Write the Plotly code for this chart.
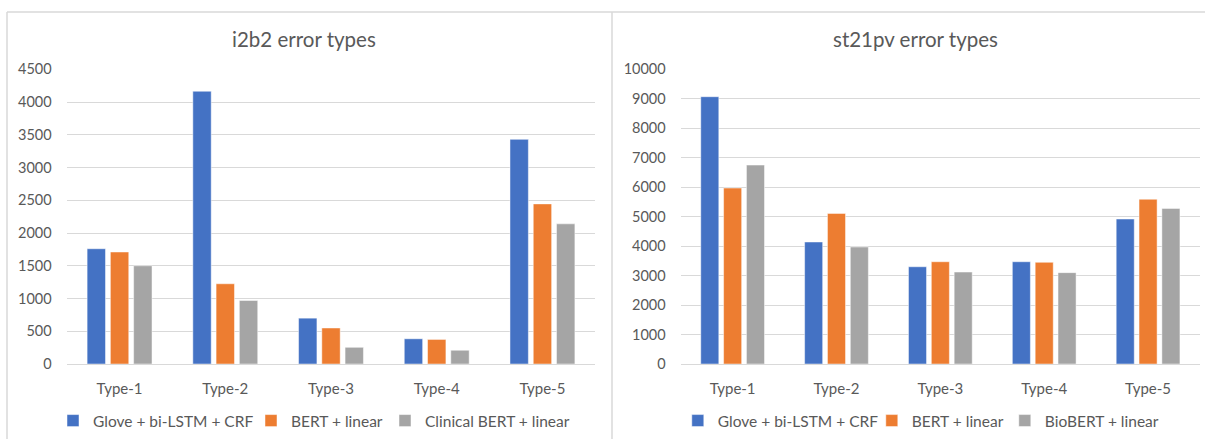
import plotly.graph_objects as go

W, H = 1205, 439

categories = ["Type-1", "Type-2", "Type-3", "Type-4", "Type-5"]

i2b2_names = ["Glove + bi-LSTM + CRF", "BERT + linear", "Clinical BERT + linear"]
i2b2_glove = [1760, 4165, 700, 385, 3430]
i2b2_bert = [1710, 1225, 550, 375, 2445]
i2b2_clinical = [1500, 970, 255, 210, 2140]

st21_names = ["Glove + bi-LSTM + CRF", "BERT + linear", "BioBERT + linear"]
st21_glove = [9070, 4140, 3300, 3470, 4920]
st21_bert = [5970, 5110, 3470, 3450, 5590]
st21_biobert = [6750, 3970, 3120, 3100, 5280]

colors = ["#4472C4", "#ED7D31", "#A5A5A5"]
TXT = "#595959"
GRID = "#D9D9D9"
FONT = "Lato"

def px(x):
    return x / W

def py(y):
    return 1 - y / H

fig = go.Figure()

left_series = [i2b2_glove, i2b2_bert, i2b2_clinical]
left_lw = [153, 89, None]
for name, vals, c, lw in zip(i2b2_names, left_series, colors, left_lw):
    kw = dict(legendwidth=lw) if lw else {}
    fig.add_trace(go.Bar(x=categories, y=vals, name=name, marker_color=c,
                         marker_line_color="rgba(255,255,255,0.6)", marker_line_width=0.8,
                         xaxis="x", yaxis="y", legend="legend", **kw))

right_series = [st21_glove, st21_bert, st21_biobert]
right_lw = [149, 88, None]
for name, vals, c, lw in zip(st21_names, right_series, colors, right_lw):
    kw = dict(legendwidth=lw) if lw else {}
    fig.add_trace(go.Bar(x=categories, y=vals, name=name, marker_color=c,
                         marker_line_color="rgba(255,255,255,0.6)", marker_line_width=0.8,
                         xaxis="x2", yaxis="y2", legend="legend2", **kw))

ydom = [py(364), py(69.3)]
axis_common = dict(showgrid=True, gridcolor=GRID, gridwidth=1, zeroline=True,
                   zerolinecolor=GRID, zerolinewidth=1, tickformat="d",
                   tickfont=dict(family=FONT, size=14.5, color=TXT), showline=False,
                   ticks="", fixedrange=True, automargin=False)
xaxis_common = dict(showgrid=False, tickfont=dict(family=FONT, size=15, color=TXT),
                    ticks="", ticklabelstandoff=14, fixedrange=True, automargin=False)

fig.update_layout(
    template="none",
    width=W, height=H, autosize=False,
    margin=dict(l=0, r=0, t=0, b=0, pad=0, autoexpand=False),
    paper_bgcolor="white", plot_bgcolor="white",
    barmode="group", bargap=0.34, bargroupgap=0.21,
    font=dict(family=FONT, size=14, color=TXT),
    xaxis=dict(domain=[px(66.7), px(595.3)], anchor="y", **xaxis_common),
    yaxis=dict(domain=ydom, anchor="x", range=[0, 4500], dtick=500,
               ticklabelstandoff=14, **axis_common),
    xaxis2=dict(domain=[px(680.7), px(1200)], anchor="y2", **xaxis_common),
    yaxis2=dict(domain=ydom, anchor="x2", range=[0, 10000], dtick=1000,
                ticklabelstandoff=14, **axis_common),
    legend=dict(orientation="h", x=px(53), y=py(421), xanchor="left", yanchor="middle",
                font=dict(family=FONT, size=15.5, color=TXT), bgcolor="rgba(0,0,0,0)",
                traceorder="normal", borderwidth=0),
    legend2=dict(orientation="h", x=px(677.8), y=py(421), xanchor="left", yanchor="middle",
                 font=dict(family=FONT, size=15.5, color=TXT), bgcolor="rgba(0,0,0,0)",
                 traceorder="normal", borderwidth=0),
    annotations=[
        dict(text="i2b2 error types", x=px(304), y=py(39.5), xref="paper", yref="paper",
             xanchor="center", yanchor="middle", showarrow=False,
             font=dict(family=FONT, size=20.5, color=TXT)),
        dict(text="st21pv error types", x=px(915), y=py(39.5), xref="paper", yref="paper",
             xanchor="center", yanchor="middle", showarrow=False,
             font=dict(family=FONT, size=20.5, color=TXT)),
    ],
    shapes=[
        dict(type="line", xref="paper", yref="paper", x0=px(7), x1=1, y0=py(12), y1=py(12),
             line=dict(color=GRID, width=1.5)),
        dict(type="line", xref="paper", yref="paper", x0=px(7), x1=px(7), y0=py(12), y1=0,
             line=dict(color=GRID, width=1.5)),
        dict(type="line", xref="paper", yref="paper", x0=px(612), x1=px(612), y0=py(12), y1=0,
             line=dict(color=GRID, width=1.5)),
    ],
    hovermode=False,
)

fig.write_html("out.html", config={"displayModeBar": False},
               post_script="document.body.style.margin='0px';document.body.style.overflow='hidden';")
